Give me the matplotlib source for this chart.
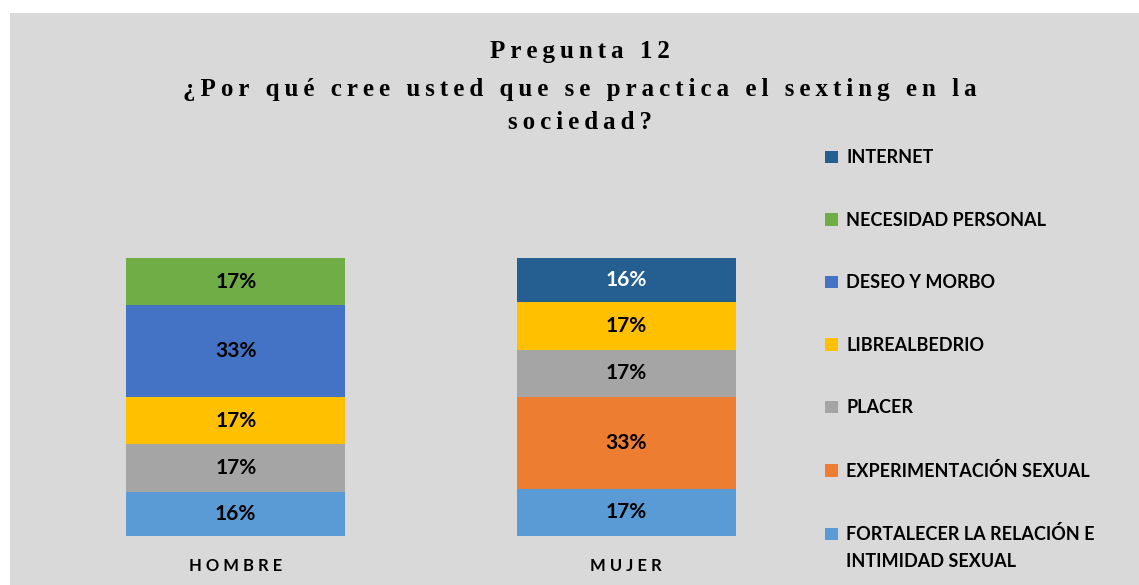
import matplotlib.pyplot as plt
import numpy as np

# categorias y series (porcentajes, de abajo hacia arriba)
categorias = ['HOMBRE', 'MUJER']
series = ['FORTALECER LA RELACIÓN E\nINTIMIDAD SEXUAL', 'EXPERIMENTACIÓN SEXUAL', 'PLACER',
          'LIBREALBEDRIO', 'DESEO Y MORBO', 'NECESIDAD PERSONAL', 'INTERNET']
fortalecer = [16, 17]
experimentacion = [0, 33]
placer = [17, 17]
librealbedrio = [17, 17]
deseo = [33, 0]
necesidad = [17, 0]
internet = [0, 16]
colores = ['#5B9BD5', '#ED7D31', '#A5A5A5', '#FFC000', '#4472C4', '#70AD47', '#255E91']
titulo = ['Pregunta 12', '¿Por qué cree usted que se practica el sexting en la', 'sociedad?']

valores = [fortalecer, experimentacion, placer, librealbedrio, deseo, necesidad, internet]

def espaciar(s, gap='\u2009', wgap='\u2009 \u2009'):
    # imitar el espaciado de letras de Excel
    return wgap.join(gap.join(w) for w in s.split(' '))

fig = plt.figure(figsize=(11.39, 5.85), dpi=100)
fig.patch.set_facecolor('white')
fondo = plt.Rectangle((10/1139, 0), 1, 1 - 13/585, transform=fig.transFigure,
                      facecolor='#D9D9D9', edgecolor='none', zorder=-10)
fig.patches.append(fondo)

ax = fig.add_axes([40.5/1139, 49/585, 781/1139, 278/585])
ax.set_facecolor('none')
x = np.arange(len(categorias))
base = np.zeros(len(categorias))
for nombre, vals, col in zip(series, valores, colores):
    vals = np.array(vals, dtype=float)
    bars = ax.bar(x, vals, 0.56, bottom=base, color=col, label=nombre)
    for xi, b, v in zip(x, base, vals):
        if v > 0:
            ax.text(xi, b + v / 2, f'{v:.0f}%', ha='center', va='center',
                    fontsize=15, fontweight='bold', family='Lato',
                    color='white' if col == '#255E91' else 'black')
    base += vals

ax.set_xlim(-0.5, 1.5)
ax.set_ylim(0, 100)
ax.set_xticks(x)
ax.set_xticklabels([espaciar(c, ' ', '  ') for c in categorias], fontsize=12, fontweight='bold', family='Lato')
ax.tick_params(axis='x', length=0, pad=16)
ax.set_yticks([])
for s in ax.spines.values():
    s.set_visible(False)

h, l = ax.get_legend_handles_labels()
leg = fig.legend(h[::-1], l[::-1], loc='upper left', bbox_to_anchor=(809/1139, 1 - 133/585),
                 frameon=False, handlelength=0.7, handleheight=0.7, handletextpad=0.45,
                 labelspacing=2.52, prop={'family': 'Lato', 'weight': 'bold', 'size': 13})

# como en Excel: el cuadro va con la primera linea, la segunda cuelga debajo
ultimo = leg.get_texts()[-1]
linea1, linea2 = ultimo.get_text().split('\n')
ultimo.set_text(linea1)
fig.canvas.draw()
bb = ultimo.get_window_extent().transformed(fig.transFigure.inverted())
fig.text(bb.x0, bb.y0 - 27/585, linea2, ha='left', va='bottom',
         fontsize=13, fontweight='bold', family='Lato')

# titulo en tres lineas, con las lineas de base del original
for t, yb in zip(titulo, [58, 96, 129]):
    fig.text(580/1139, 1 - yb/585, espaciar(t), ha='center', va='baseline',
             fontsize=18, fontweight='bold', family=['Liberation Serif', 'DejaVu Serif'])

fig.savefig('out.png', dpi=100)
